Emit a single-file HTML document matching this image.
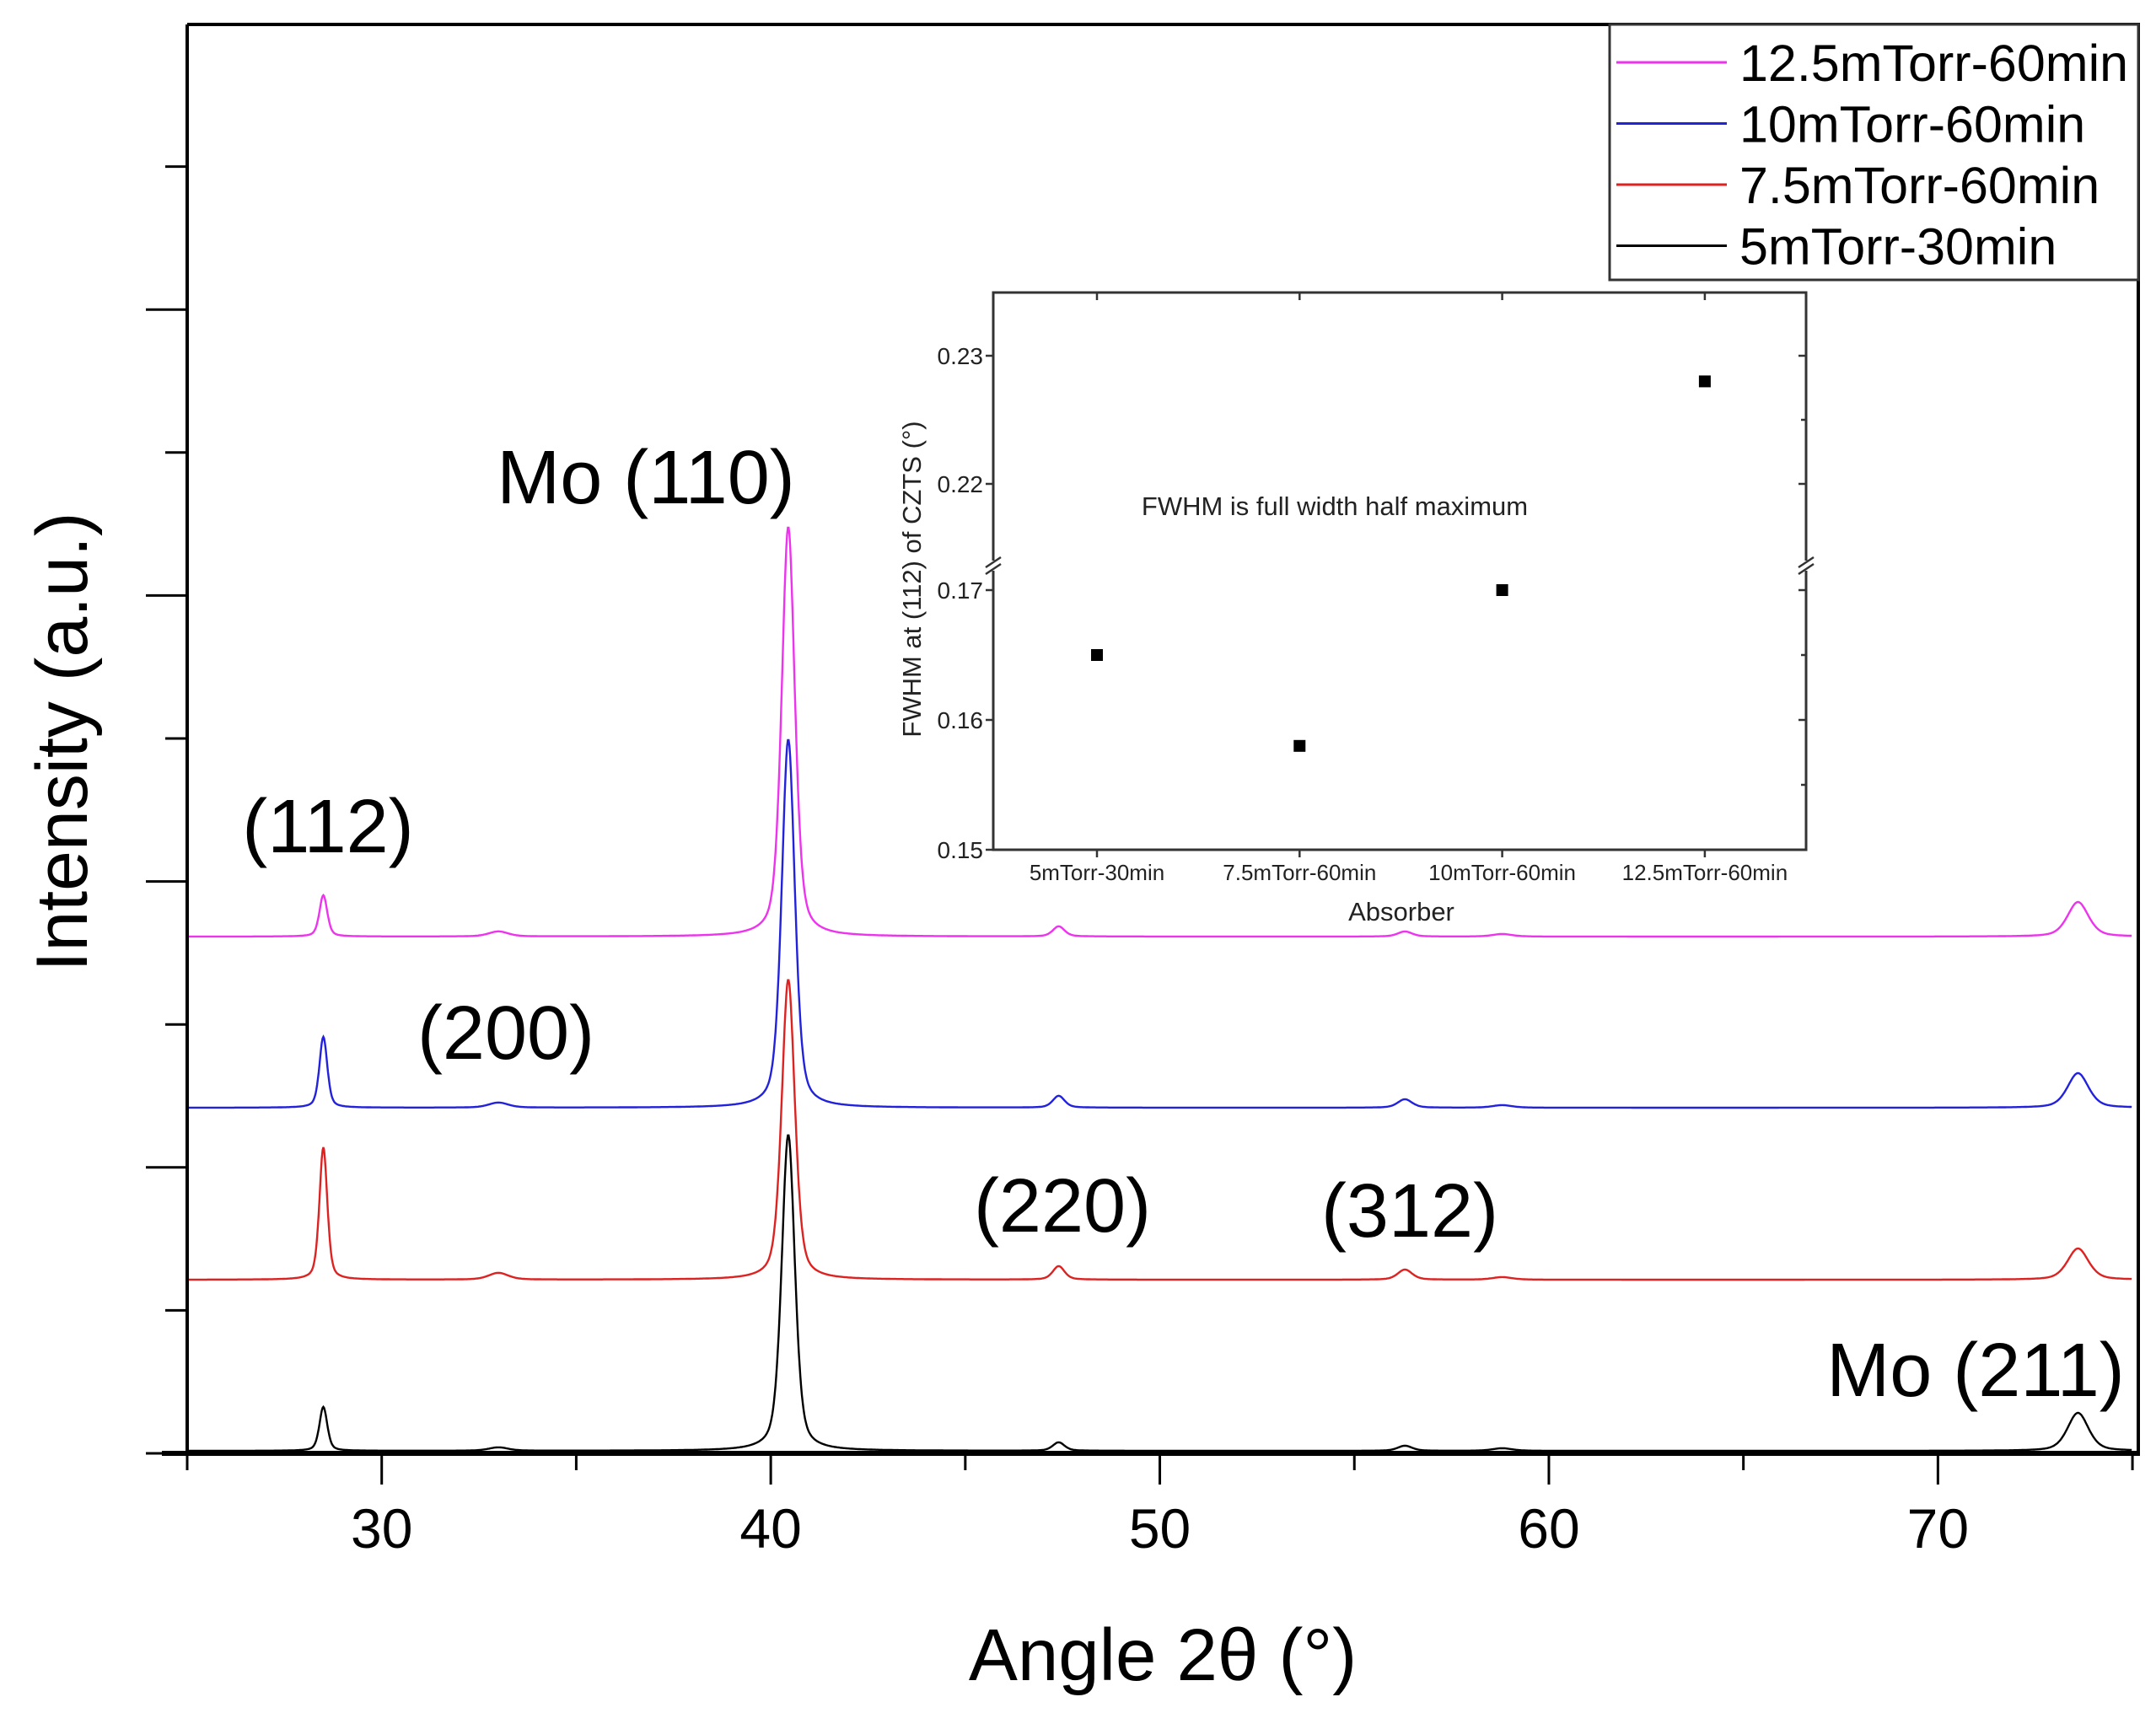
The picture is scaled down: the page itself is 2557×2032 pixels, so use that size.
<!DOCTYPE html>
<html><head><meta charset="utf-8"><style>
html,body{margin:0;padding:0;background:#fff;}
svg{display:block;font-family:"Liberation Sans",Arial,sans-serif;}
</style></head><body>
<svg id="chart" width="2557" height="2032" viewBox="0 0 2557 2032" xmlns="http://www.w3.org/2000/svg">
<rect width="2557" height="2032" fill="#fff"/>
<g id="main"></g>
<g id="inset"></g>
<g id="labels" font-size="90" text-anchor="middle">
<text x="766" y="597">Mo (110)</text>
<text x="389" y="1011">(112)</text>
<text x="600" y="1256">(200)</text>
<text x="1260" y="1461">(220)</text>
<text x="1672" y="1467">(312)</text>
<text x="2343" y="1656">Mo (211)</text>
</g>
</svg>
<script>
// ===== Main XRD chart data =====
const seriesNames = ["12.5mTorr-60min","10mTorr-60min","7.5mTorr-60min","5mTorr-30min"];
const seriesColors = ["#ee33ee","#2222dd","#dd2222","#000000"];
const seriesOffsets = [613, 410, 206, 3];
const peakPositions = [28.5, 33.0, 40.45, 47.4, 56.3, 58.8, 73.6];
const peakWidths    = [0.12, 0.3, 0.2, 0.18, 0.22, 0.3, 0.32];
const peakHeightsMagenta = [49, 6, 486, 12, 6, 3, 41];
const peakHeightsBlue    = [84, 6, 437, 14, 10, 3, 41];
const peakHeightsRed     = [157, 8, 356, 16, 12, 3, 37];
const peakHeightsBlack   = [52, 4, 375, 10, 6, 3, 45];
const xTicks = [30, 40, 50, 60, 70];

// ===== Inset data =====
const insetCats = ["5mTorr-30min","7.5mTorr-60min","10mTorr-60min","12.5mTorr-60min"];
const insetVals = [0.165, 0.158, 0.170, 0.228];
const insetLowTicks = [0.15, 0.16, 0.17];
const insetHighTicks = [0.22, 0.23];

const NS = "http://www.w3.org/2000/svg";
function mk(tag, attrs, parent, text){
  const e = document.createElementNS(NS, tag);
  for (const k in attrs) e.setAttribute(k, attrs[k]);
  if (text !== undefined) e.textContent = text;
  parent.appendChild(e); return e;
}
const main = document.getElementById('main');
const L = 222, R = 2536, T = 29, B = 1724;
const xMin = 25, xMax = 75.15;
const X = v => L + (v - xMin) / (xMax - xMin) * (R - L);
const Y = v => B - v * (B - T) / 1695;

const allHeights = [peakHeightsMagenta, peakHeightsBlue, peakHeightsRed, peakHeightsBlack];
allHeights.forEach((hs, si) => {
  let d = "";
  for (let x = xMin; x <= 75.0; x += 0.02) {
    let y = seriesOffsets[si];
    for (let p = 0; p < peakPositions.length; p++) {
      const u = (x - peakPositions[p]) / peakWidths[p];
      const lor = 1 / (1 + u * u), gau = Math.exp(-0.693 * u * u);
      y += hs[p] * (0.55 * gau + 0.45 * lor);
    }
    d += (d ? "L" : "M") + X(x).toFixed(1) + "," + Y(y).toFixed(1);
  }
  const path = mk('path', {d: d, fill: 'none', stroke: seriesColors[si], 'stroke-width': 2.4}, main);
  
  
});

const frame = mk('path', {d:`M${L},${T}H${R}V${B}`, fill:'none', stroke:'#000', 'stroke-width':4}, main);


const yAxis = mk('line', {x1:L, y1:T, x2:L, y2:B+2, stroke:'#000', 'stroke-width':4}, main);


const xAxis = mk('line', {x1:L-30, y1:B, x2:R+2, y2:B, stroke:'#000', 'stroke-width':6}, main);



for (let v = 25; v <= 75; v += 5) {
  const major = v % 10 === 0;
  const t = mk('line', {x1:X(v), y1:B, x2:X(v), y2:B + (major ? 37 : 20), stroke:'#000', 'stroke-width':3}, main);
  
  
}
xTicks.forEach(v => {
  const t = mk('text', {x:X(v), y:1836, 'font-size':66, 'text-anchor':'middle'}, main, String(v));
  
  
});
for (let k = 0; k <= 9; k++) {
  const yy = B - k * 169.6;
  const major = k % 2 === 0;
  const t = mk('line', {x1:L - (major ? 49 : 26), y1:yy, x2:L, y2:yy, stroke:'#000', 'stroke-width':3}, main);
  
  
}
const xt = mk('text', {x:1379, y:1993, 'font-size':87, 'text-anchor':'middle'}, main, "Angle 2θ (°)");


const yt = mk('text', {x:0, y:0, 'font-size':86, 'text-anchor':'middle', transform:'translate(103,880) rotate(-90)'}, main, "Intensity (a.u.)");



const lg = mk('g', {}, main);


mk('rect', {x:1909, y:29, width:627, height:303, fill:'#fff', stroke:'#333', 'stroke-width':3}, lg);
seriesNames.forEach((n, i) => {
  const yy = 74 + i * 72.5;
  const g = mk('g', {}, lg);
  
  
  mk('line', {x1:1917, y1:yy, x2:2048, y2:yy, stroke:seriesColors[i], 'stroke-width':3}, g);
  mk('text', {x:2063, y:yy + 22, 'font-size':61}, g, n);
});

// ===== Inset =====
const ins = document.getElementById('inset');


const iL = 1178, iR = 2142, iT = 347, iB = 1008, brk = 671;
const catX = i => 1301 + i * 240.3;
function iY(v){
  if (v <= 0.1719) return iB - (v - 0.15) / 0.01 * 154;
  return 574 - (v - 0.22) / 0.01 * 152;
}
mk('rect', {x:iL, y:iT, width:iR-iL, height:iB-iT, fill:'#fff', 'fill-opacity':0, stroke:'#333', 'stroke-width':3}, ins);
[iL, iR].forEach(xx => {
  mk('rect', {x:xx-8, y:brk-6, width:16, height:12, fill:'#fff', stroke:'none'}, ins);
  mk('line', {x1:xx-9, y1:brk+2, x2:xx+9, y2:brk-10, stroke:'#333', 'stroke-width':2.5}, ins);
  mk('line', {x1:xx-9, y1:brk+10, x2:xx+9, y2:brk-2, stroke:'#333', 'stroke-width':2.5}, ins);
});
insetLowTicks.concat(insetHighTicks).forEach(v => {
  const yy = iY(v);
  mk('line', {x1:iL-9, y1:yy, x2:iL, y2:yy, stroke:'#333', 'stroke-width':2.5}, ins);
  mk('line', {x1:iR-9, y1:yy, x2:iR, y2:yy, stroke:'#333', 'stroke-width':2.5}, ins);
  const t = mk('text', {x:iL-12, y:yy+10, 'font-size':28, 'text-anchor':'end', fill:'#222'}, ins, v.toFixed(2));
  
  
});
[0.155, 0.165, 0.225].forEach(v => {
  mk('line', {x1:iR-6, y1:iY(v), x2:iR, y2:iY(v), stroke:'#333', 'stroke-width':2.5}, ins);
});
insetCats.forEach((c, i) => {
  const xx = catX(i);
  mk('line', {x1:xx, y1:iB, x2:xx, y2:iB+9, stroke:'#333', 'stroke-width':2.5}, ins);
  mk('line', {x1:xx, y1:iT, x2:xx, y2:iT+9, stroke:'#333', 'stroke-width':2.5}, ins);
  const t = mk('text', {x:xx, y:1044, 'font-size':26, 'text-anchor':'middle', fill:'#222'}, ins, c);
  
  
});
insetVals.forEach((v, i) => {
  const p = mk('rect', {x:catX(i)-7, y:iY(v)-7, width:14, height:14, fill:'#000'}, ins);
  
  
});
const it1 = mk('text', {x:1583, y:611, 'font-size':31, 'text-anchor':'middle', fill:'#222'}, ins, "FWHM is full width half maximum");


const it2 = mk('text', {x:1662, y:1092, 'font-size':31, 'text-anchor':'middle', fill:'#222'}, ins, "Absorber");


const it3 = mk('text', {x:0, y:0, 'font-size':31, 'text-anchor':'middle', fill:'#222', transform:'translate(1092,687) rotate(-90)'}, ins, "FWHM at (112) of CZTS (°)");


</script>
</body></html>
